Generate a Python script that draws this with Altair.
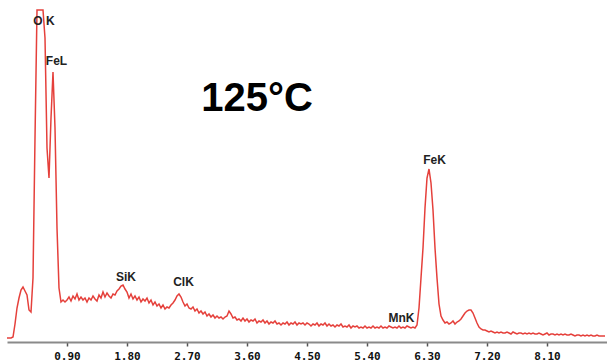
import altair as alt
import pandas as pd

# EDS spectrum: channel energies (keV, 0.03 keV per channel) and counts (arbitrary units)
channel_width_kev = 0.03
counts = [
    0, 0, 0, 1, 14, 30, 40, 48, 51, 47,
    43, 28, 26, 60, 200, 328, 328, 328, 328, 300,
    190, 160, 220, 266, 210, 110, 50, 36, 38, 36,
    38, 41, 37, 42, 39, 44, 38, 41, 38, 40,
    36, 40, 38, 42, 39, 37, 43, 40, 46, 41,
    45, 42, 40, 44, 43, 47, 49, 52, 53, 49,
    46, 40, 44, 39, 42, 38, 41, 36, 39, 37,
    40, 35, 38, 33, 36, 32, 34, 30, 33, 29,
    31, 30, 33, 35, 38, 42, 44, 41, 36, 32,
    34, 30, 29, 31, 27, 29, 25, 27, 24, 26,
    22, 24, 21, 23, 20, 22, 20, 21, 19, 21,
    22, 27, 24, 20, 21, 18, 19, 17, 20, 17,
    19, 16, 18, 17, 19, 15, 17, 16, 18, 15,
    17, 14, 16, 15, 17, 14, 15, 13, 15, 14,
    16, 13, 15, 14, 16, 13, 15, 14, 15, 13,
    15, 14, 12, 14, 13, 15, 12, 14, 13, 15,
    12, 14, 12, 13, 11, 13, 12, 14, 11, 12,
    11, 13, 10, 12, 11, 12, 10, 11, 10, 12,
    10, 11, 10, 12, 10, 11, 10, 12, 10, 11,
    10, 12, 11, 10, 11, 10, 12, 10, 11, 10,
    12, 11, 10, 11, 10, 13, 30, 60, 90, 130,
    160, 169, 155, 128, 90, 60, 34, 22, 18, 15,
    16, 14, 15, 17, 14, 16, 17, 19, 22, 25,
    27, 28, 28, 25, 20, 15, 11, 9, 8, 8,
    7, 6, 7, 6, 5, 6, 5, 6, 5, 5,
    6, 5, 4, 6, 5, 4, 5, 5, 4, 5,
    4, 5, 4, 5, 4, 4, 5, 4, 3, 4,
    5, 3, 4, 4, 3, 4, 3, 4, 3, 4,
    3, 3, 4, 3, 2, 3, 3, 2, 3, 2,
    3, 2, 3, 2, 2, 3, 2, 2, 2, 2,
]
energies = [round(i * channel_width_kev, 3) for i in range(len(counts))]

tick_values = [0.90, 1.80, 2.70, 3.60, 4.50, 5.40, 6.30, 7.20, 8.10]

peak_labels = ["O K", "FeL", "SiK", "ClK", "MnK", "FeK"]
peak_label_energy = [0.555, 0.743, 1.785, 2.648, 5.918, 6.413]
peak_label_level = [317, 277, 61, 56, 20, 178]

title_text = ["125°C"]
title_energy = [3.75]
title_level = [239]

spec = pd.DataFrame({"energy": energies, "counts": counts})
labels = pd.DataFrame({"label": peak_labels, "energy": peak_label_energy, "level": peak_label_level})
title_df = pd.DataFrame({"label": title_text, "energy": title_energy, "level": title_level})

xscale = alt.Scale(domain=[0, 9], nice=False, zero=False)
yscale = alt.Scale(domain=[-4, 328], nice=False, zero=False)

line = alt.Chart(spec).mark_line(color="#e5403b", strokeWidth=1.5).encode(
    x=alt.X("energy:Q", scale=xscale,
            axis=alt.Axis(values=tick_values, format=".2f", title=None, grid=False,
                          domainColor="#8a8a8a", domainWidth=2, tickColor="#555555",
                          tickSize=4, tickWidth=1.5, labelPadding=4,
                          labelFont="DejaVu Sans Mono", labelFontWeight="bold",
                          labelFontSize=11, labelColor="#111111")),
    y=alt.Y("counts:Q", scale=yscale, axis=None),
)

text = alt.Chart(labels).mark_text(font="Liberation Sans", fontSize=12, fontWeight="bold",
                                   color="#222222", baseline="middle", align="center").encode(
    x=alt.X("energy:Q", scale=xscale),
    y=alt.Y("level:Q", scale=yscale),
    text="label:N",
)

title = alt.Chart(title_df).mark_text(font="Liberation Sans", fontSize=40, fontWeight="bold",
                                      color="#000000", baseline="middle", align="center").encode(
    x=alt.X("energy:Q", scale=xscale),
    y=alt.Y("level:Q", scale=yscale),
    text="label:N",
)

chart = alt.layer(line, text, title).properties(
    width=600, height=332,
    autosize=alt.AutoSizeParams(type="none"),
    padding={"left": 7, "top": 10, "right": 0, "bottom": 19},
    background="white",
).configure_view(stroke=None)

chart.save("out.html", embed_options={"renderer": "svg", "actions": False})
